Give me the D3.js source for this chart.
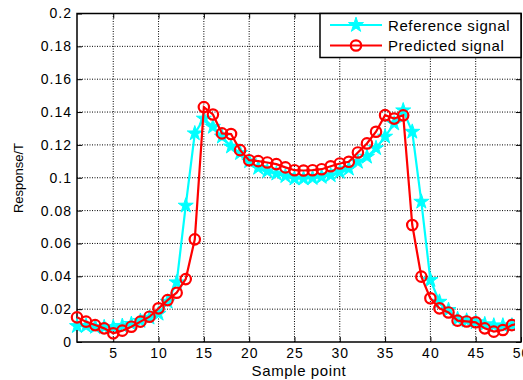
<!DOCTYPE html>
<html>
<head>
<meta charset="utf-8">
<script src="https://cdn.jsdelivr.net/npm/d3@7/dist/d3.min.js"></script>
<style>
  html, body { margin: 0; padding: 0; background: #fff; }
  svg { display: block; }
  text { font-family: "Liberation Sans", Arial, sans-serif; fill: #000; }
</style>
</head>
<body>
<svg id="chart" width="523" height="380"></svg>
<script>
// Sample indices 1..50
const samples = d3.range(1, 51);

// Reference signal (cyan stars)
const referenceSignal = [
  0.0097, 0.0098, 0.0092, 0.0090, 0.0090, 0.0098, 0.0110, 0.0128, 0.0148, 0.0172,
  0.0245, 0.0363, 0.0830, 0.1270, 0.1360, 0.1310, 0.1250, 0.1190, 0.1150, 0.1100,
  0.1060, 0.1040, 0.1025, 0.1010, 0.0995, 0.0995, 0.0998, 0.1005, 0.1015, 0.1035,
  0.1055, 0.1097, 0.1128, 0.1180, 0.1250, 0.1330, 0.1410, 0.1280, 0.0854, 0.0377,
  0.0245, 0.0195, 0.0140, 0.0130, 0.0120, 0.0108, 0.0100, 0.0100, 0.0100, 0.0108
];

// Predicted signal (red circles)
const predictedSignal = [
  0.0150, 0.0124, 0.0103, 0.0083, 0.0053, 0.0069, 0.0093, 0.0124, 0.0154, 0.0205,
  0.0255, 0.0300, 0.0383, 0.0625, 0.1430, 0.1385, 0.1270, 0.1266, 0.1168, 0.1107,
  0.1101, 0.1093, 0.1083, 0.1063, 0.1046, 0.1044, 0.1046, 0.1052, 0.1070, 0.1087,
  0.1097, 0.1154, 0.1209, 0.1280, 0.1381, 0.1360, 0.1380, 0.0712, 0.0398, 0.0266,
  0.0205, 0.0180, 0.0130, 0.0125, 0.0120, 0.0083, 0.0063, 0.0073, 0.0103, 0.0114
];

const xTicks = [5, 10, 15, 20, 25, 30, 35, 40, 45, 50];
const yTicks = [0, 0.02, 0.04, 0.06, 0.08, 0.1, 0.12, 0.14, 0.16, 0.18, 0.2];
const seriesNames = ["Reference signal", "Predicted signal"];

const plot = { left: 77, right: 521, top: 13.5, bottom: 342 };
const svg = d3.select("#chart");

const x = d3.scaleLinear().domain([1, 50]).range([plot.left, plot.right]);
const y = d3.scaleLinear().domain([0, 0.2]).range([plot.bottom, plot.top]);

// Dotted grid
const grid = svg.append("g");
grid.selectAll("line.gx").data(xTicks.filter(t => t < 50)).join("line")
  .attr("x1", d => x(d)).attr("x2", d => x(d))
  .attr("y1", plot.top).attr("y2", plot.bottom)
  .attr("stroke", "#000").attr("stroke-width", 1).attr("stroke-dasharray", "1,1.5");
grid.selectAll("line.gy").data(yTicks.filter(t => t > 0 && t < 0.2)).join("line")
  .attr("x1", plot.left).attr("x2", plot.right)
  .attr("y1", d => y(d)).attr("y2", d => y(d))
  .attr("stroke", "#000").attr("stroke-width", 1).attr("stroke-dasharray", "1,1.5");

// Axes: inward ticks on all four sides
const tickLen = 5;
const fmtY = d => d === 0 ? "0" : d3.format("~g")(d);
const axisStyle = g => {
  g.select(".domain").remove();
  g.selectAll(".tick line").attr("stroke", "#000");
  g.selectAll(".tick text").attr("font-size", 14).attr("letter-spacing", "1px")
    .attr("font-family", "Liberation Sans, Arial, sans-serif");
};
svg.append("g").attr("transform", `translate(0,${plot.bottom})`)
  .call(d3.axisBottom(x).tickValues(xTicks).tickSize(-tickLen).tickPadding(6))
  .call(axisStyle);
svg.append("g").attr("transform", `translate(0,${plot.top})`)
  .call(d3.axisTop(x).tickValues(xTicks).tickSize(-tickLen).tickFormat(""))
  .call(axisStyle);
svg.append("g").attr("transform", `translate(${plot.left},0)`)
  .call(d3.axisLeft(y).tickValues(yTicks).tickSize(-tickLen).tickPadding(5).tickFormat(fmtY))
  .call(axisStyle);
svg.append("g").attr("transform", `translate(${plot.right},0)`)
  .call(d3.axisRight(y).tickValues(yTicks).tickSize(-tickLen).tickFormat(""))
  .call(axisStyle);

svg.append("rect")
  .attr("x", plot.left).attr("y", plot.top)
  .attr("width", plot.right - plot.left).attr("height", plot.bottom - plot.top)
  .attr("fill", "none").attr("stroke", "#000").attr("stroke-width", 1.5);

// Axis titles
svg.append("text").attr("x", (plot.left + plot.right) / 2).attr("y", 376)
  .attr("text-anchor", "middle").attr("font-size", 15).attr("letter-spacing", "0.6px")
  .text("Sample point");
svg.append("text").attr("transform", "translate(23,178) rotate(-90)")
  .attr("text-anchor", "middle").attr("font-size", 13)
  .text("Response/T");

// Series
const star = d3.symbol().type(d3.symbolStar).size(70);
const line = d3.line().x((d, i) => x(samples[i])).y(d => y(d));

svg.append("clipPath").attr("id", "plotClip").append("rect")
  .attr("x", plot.left - 8).attr("y", plot.top).attr("width", plot.right - plot.left + 2)
  .attr("height", plot.bottom - plot.top + 8);

const series = svg.append("g").attr("clip-path", "url(#plotClip)");

series.append("path").datum(referenceSignal)
  .attr("d", line).attr("fill", "none").attr("stroke", "#00ffff").attr("stroke-width", 2.2);
series.selectAll("path.star").data(referenceSignal).join("path")
  .attr("class", "star")
  .attr("transform", (d, i) => `translate(${x(samples[i])},${y(d)})`)
  .attr("d", star).attr("fill", "#00ffff").attr("stroke", "#00ffff").attr("stroke-width", 1);

series.append("path").datum(predictedSignal)
  .attr("d", line).attr("fill", "none").attr("stroke", "#ff0000").attr("stroke-width", 2.2);
series.selectAll("circle.pt").data(predictedSignal).join("circle")
  .attr("class", "pt")
  .attr("cx", (d, i) => x(samples[i])).attr("cy", d => y(d)).attr("r", 5.2)
  .attr("fill", "none").attr("stroke", "#ff0000").attr("stroke-width", 2.2);

// Legend
const legend = svg.append("g");
legend.append("rect").attr("x", 320).attr("y", plot.top).attr("width", plot.right - 320)
  .attr("height", 44).attr("fill", "#fff").attr("stroke", "#000").attr("stroke-width", 1.5);
const rows = [
  { name: seriesNames[0], color: "#00ffff", kind: "star", cy: 25 },
  { name: seriesNames[1], color: "#ff0000", kind: "circle", cy: 45.5 }
];
rows.forEach(r => {
  legend.append("line").attr("x1", 330).attr("x2", 382).attr("y1", r.cy).attr("y2", r.cy)
    .attr("stroke", r.color).attr("stroke-width", 2.2);
  if (r.kind === "star") {
    legend.append("path").attr("transform", `translate(356,${r.cy})`).attr("d", star)
      .attr("fill", r.color).attr("stroke", r.color);
  } else {
    legend.append("circle").attr("cx", 356).attr("cy", r.cy).attr("r", 5.2)
      .attr("fill", "none").attr("stroke", r.color).attr("stroke-width", 2.2);
  }
  legend.append("text").attr("x", 388).attr("y", r.cy + 5.5)
    .attr("font-size", 15).attr("letter-spacing", "0.6px").text(r.name);
});
</script>
</body>
</html>
